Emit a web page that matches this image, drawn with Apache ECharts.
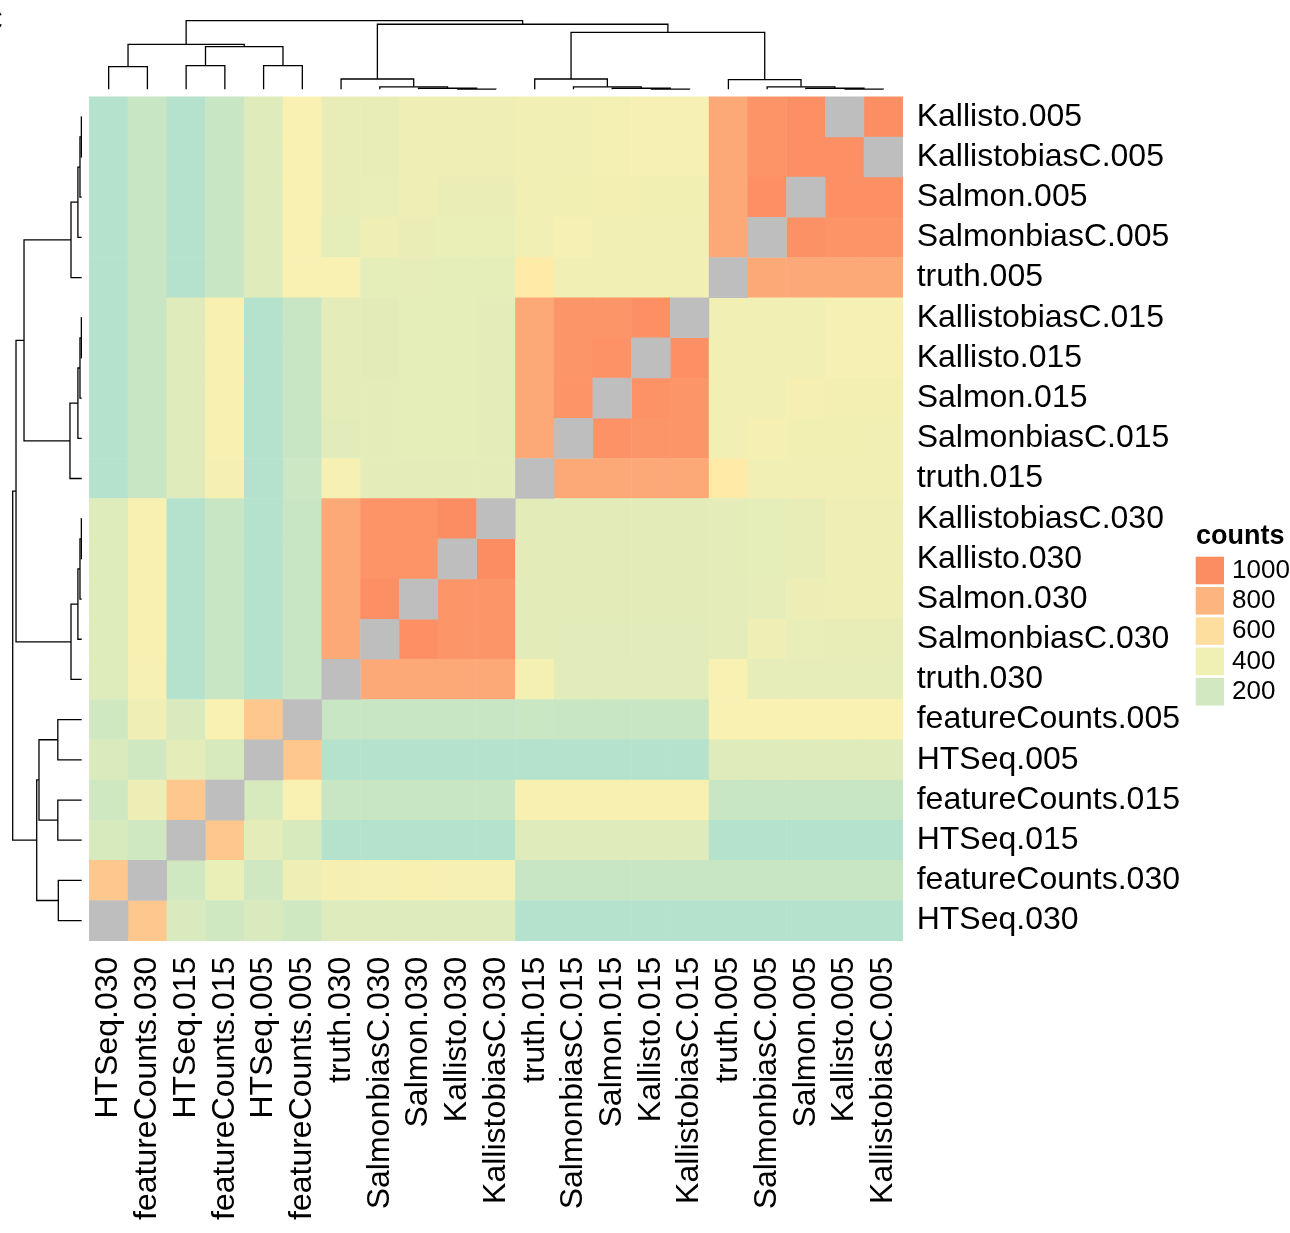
<!DOCTYPE html>
<html><head><meta charset="utf-8">
<script src="https://cdn.jsdelivr.net/npm/echarts@6/dist/echarts.min.js"></script>
<style>html,body{margin:0;padding:0;background:#fff}#c{width:1290px;height:1233px}</style>
</head><body><div id="c"></div><script>
const colNames = ['HTSeq.030','featureCounts.030','HTSeq.015','featureCounts.015','HTSeq.005','featureCounts.005',
  'truth.030','SalmonbiasC.030','Salmon.030','Kallisto.030','KallistobiasC.030',
  'truth.015','SalmonbiasC.015','Salmon.015','Kallisto.015','KallistobiasC.015',
  'truth.005','SalmonbiasC.005','Salmon.005','Kallisto.005','KallistobiasC.005'];
const rowNames = ['Kallisto.005','KallistobiasC.005','Salmon.005','SalmonbiasC.005','truth.005',
  'KallistobiasC.015','Kallisto.015','Salmon.015','SalmonbiasC.015','truth.015',
  'KallistobiasC.030','Kallisto.030','Salmon.030','SalmonbiasC.030','truth.030',
  'featureCounts.005','HTSeq.005','featureCounts.015','HTSeq.015','featureCounts.030','HTSeq.030'];
// counts, rows top->bottom, columns left->right (null = NA, drawn grey)
const values = [
  [15,140,15,140,295,455,350,350,385,390,390,405,410,425,440,440,865,965,990,null,995],
  [15,140,15,140,295,455,350,350,385,390,390,405,410,425,440,440,865,965,985,990,null],
  [15,140,15,140,295,455,350,355,395,365,365,405,415,420,415,415,865,985,null,985,985],
  [15,140,15,140,295,455,330,385,365,360,360,410,440,410,410,410,865,null,980,965,965],
  [15,140,15,140,295,455,455,330,340,330,330,540,405,405,405,405,null,865,865,865,865],
  [15,140,290,445,15,140,320,315,330,330,325,860,960,960,985,null,405,405,410,440,440],
  [15,140,290,445,15,140,320,315,330,330,325,860,960,975,null,985,405,405,410,440,440],
  [15,140,290,445,15,140,320,320,330,330,325,860,965,null,975,960,405,410,435,420,420],
  [15,140,290,445,15,140,305,320,330,330,325,860,null,975,960,960,405,435,415,415,410],
  [15,140,290,435,15,160,440,320,325,325,325,null,865,865,865,865,540,410,410,410,410],
  [285,445,15,140,15,140,865,965,965,1000,null,315,315,315,315,315,320,330,350,385,385],
  [285,445,15,140,15,140,865,965,965,null,1000,315,315,315,315,315,320,330,350,385,385],
  [285,450,15,140,15,140,865,990,null,960,960,315,315,315,315,315,325,340,380,385,385],
  [285,445,15,140,15,140,865,null,985,955,955,315,310,310,310,310,325,385,355,350,350],
  [285,440,15,140,15,140,null,865,865,865,865,430,305,305,305,305,455,345,345,345,345],
  [190,385,245,455,715,null,140,140,140,140,140,150,140,140,140,140,455,455,455,455,455],
  [265,190,320,240,null,715,15,15,15,15,15,15,15,15,15,15,290,290,290,290,290],
  [190,375,715,null,240,455,140,140,140,140,140,445,450,450,450,450,140,140,140,140,140],
  [240,190,null,715,320,240,15,15,15,15,15,290,290,290,290,290,15,15,15,15,15],
  [715,null,190,360,190,390,435,440,450,440,440,140,140,140,140,140,140,140,140,140,140],
  [null,715,245,185,245,185,280,280,280,280,280,15,15,15,15,15,15,15,15,15,15]
];
// dendrograms: [left, right, mergeHeight], leaves = display positions
const colTree = [
  [[0,1,33],[[2,3,34.4],[4,5,34.4],62.1],65.6],
  [[6,[7,[8,[9,10,0.4],1.5],3.6],15],
   [[11,[12,[13,[14,15,0.4],1.5],3.6],15],[16,[17,[18,[19,20,0.4],1.5],3.6],14],83.1],94.8],
  100];
const rowTree = [
  [[[[[[0,1,0.5],2,2.5],3,5.5],4,15.5],[[[[5,6,0.5],7,2.5],8,5.5],9,17],83.6],
   [[[[10,11,0.5],12,2.5],13,5.5],14,15.5],95.2],
  [[[15,16,34.6],[17,18,34.6],61.9],[19,20,33.9],65.2],
  100];
const legendTicks = [1000,800,600,400,200];
const scaleMin = 0, scaleMax = 1000;
const rampColors = ['#b3e2cd','#fff2ae','#fc8d62'];

const FONT = "'Liberation Sans', Arial, Helvetica, sans-serif";

function hex2rgb(h){return [1,3,5].map(i=>parseInt(h.substr(i,2),16));}
function rampAt(v){
  let t=(v-scaleMin)/(scaleMax-scaleMin); t=Math.max(0,Math.min(1,t));
  const seg=t<0.5?0:1, lt=(t-seg*0.5)/0.5;
  const a=hex2rgb(rampColors[seg]), b=hex2rgb(rampColors[seg+1]);
  return 'rgb('+a.map((x,i)=>Math.round(x+(b[i]-x)*lt)).join(',')+')';
}
function walk(node, segs){
  if (typeof node === 'number') return {p: node+0.5, h: 0};
  const a = walk(node[0], segs), b = walk(node[1], segs), h = node[2];
  segs.push([[a.p,a.h],[a.p,h],[b.p,h],[b.p,b.h]]);
  return {p:(a.p+b.p)/2, h:h};
}
const colSegs=[]; walk(colTree, colSegs);
const rowSegs=[]; walk(rowTree, rowSegs);

const heatData=[], naData=[];
values.forEach((row,r)=>row.forEach((v,c)=>{
  if (v===null) naData.push([c,r,0]); else heatData.push([c,r,v]);
}));

const chart = echarts.init(document.getElementById('c'), null, {renderer:'canvas'});
chart.setOption({
  animation:false,
  backgroundColor:'#fff',
  title:{text:'counts', left:1196, top:523, padding:0,
    textStyle:{fontSize:27, fontWeight:'bold', color:'#000', fontFamily:FONT}},
  graphic:[{type:'text', right:1287, top:7, style:{text:'C', fontSize:29, fill:'#000', fontFamily:FONT}}],
  grid:[
    {left:89.3, top:96.7, width:813.4, height:844},
    {left:89.3, top:20.7, width:813.4, height:68.6},
    {left:12.7, top:96.7, width:69, height:844}
  ],
  xAxis:[
    {gridIndex:0, type:'category', data:colNames, position:'bottom',
     axisLine:{show:false}, axisTick:{show:false}, splitLine:{show:false},
     axisLabel:{rotate:90, fontSize:32, color:'#000', fontFamily:FONT, margin:16, interval:0}},
    {gridIndex:1, type:'value', min:0, max:21, show:false},
    {gridIndex:2, type:'value', min:0, max:100, inverse:true, show:false}
  ],
  yAxis:[
    {gridIndex:0, type:'category', data:rowNames, inverse:true, position:'right',
     axisLine:{show:false}, axisTick:{show:false}, splitLine:{show:false},
     axisLabel:{fontSize:32, color:'#000', fontFamily:FONT, margin:14, interval:0, padding:[11,0,0,0]}},
    {gridIndex:1, type:'value', min:0, max:100, show:false},
    {gridIndex:2, type:'value', min:0, max:21, inverse:true, show:false}
  ],
  visualMap:[
    {type:'continuous', show:false, seriesIndex:0, min:scaleMin, max:scaleMax,
     inRange:{color:rampColors}},
    {type:'piecewise', seriesIndex:4, orient:'vertical', align:'left', left:1195.7, top:556.7, padding:0,
     itemWidth:28.3, itemHeight:27.6, itemGap:2.7, itemSymbol:'rect', textGap:8,
     selectedMode:false, hoverLink:false,
     textStyle:{fontSize:26, color:'#000', fontFamily:FONT, padding:[3,0,0,0]},
     pieces: legendTicks.map(v=>({value:v, label:String(v), color:rampAt(v)}))}
  ],
  series:[
    {type:'heatmap', xAxisIndex:0, yAxisIndex:0, data:heatData, silent:true,
     itemStyle:{borderWidth:0}},
    {type:'heatmap', xAxisIndex:0, yAxisIndex:0, data:naData, silent:true,
     itemStyle:{color:'#bebebe', borderWidth:0}},
    {type:'lines', coordinateSystem:'cartesian2d', xAxisIndex:1, yAxisIndex:1, polyline:true, silent:true,
     lineStyle:{color:'#000', width:1.3, opacity:1, cap:'butt', join:'miter'},
     data: colSegs.map(s=>({coords:s}))},
    {type:'lines', coordinateSystem:'cartesian2d', xAxisIndex:2, yAxisIndex:2, polyline:true, silent:true,
     lineStyle:{color:'#000', width:1.3, opacity:1, cap:'butt', join:'miter'},
     data: rowSegs.map(s=>({coords:s.map(p=>[p[1],p[0]])}))},
    {type:'scatter', xAxisIndex:0, yAxisIndex:0, data:[], silent:true}
  ]
});
</script></body></html>
